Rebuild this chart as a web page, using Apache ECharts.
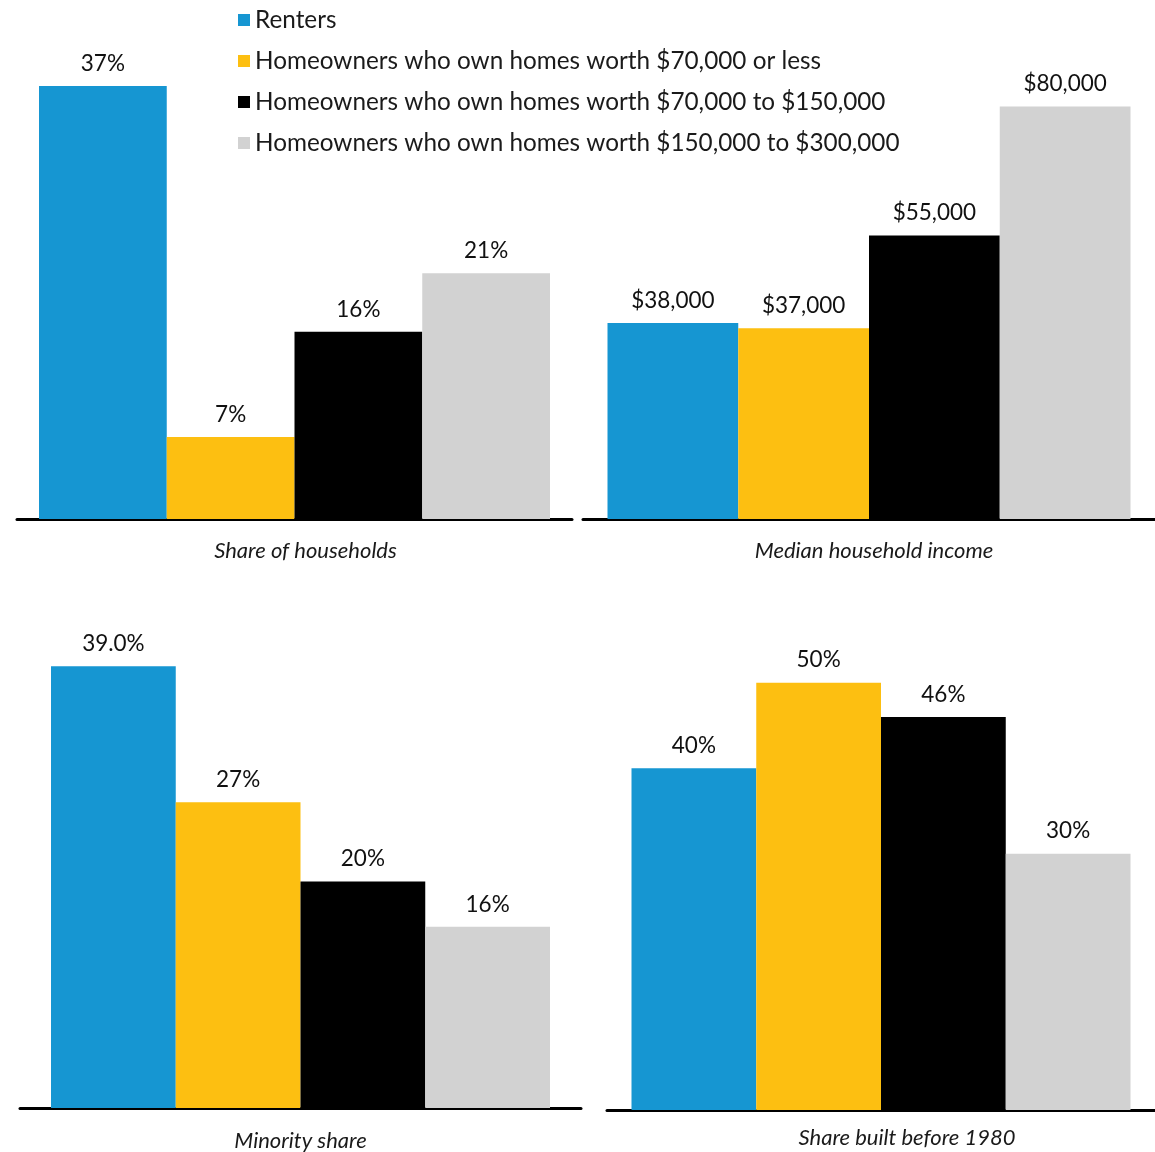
<!DOCTYPE html>
<html><head><meta charset="utf-8">
<script src="https://cdn.jsdelivr.net/npm/echarts@6/dist/echarts.min.js"></script>
<style>html,body{margin:0;padding:0;background:#fff}#c{width:1155px;height:1152px}</style>
</head><body><div id="c"></div>
<script>
const seriesNames = [
  'Renters',
  'Homeowners who own homes worth $70,000 or less',
  'Homeowners who own homes worth $70,000 to $150,000',
  'Homeowners who own homes worth $150,000 to $300,000'
];
const colors = ['#1696d2', '#fdbf11', '#000000', '#d2d2d2'];
const panelTitles = ['Share of households', 'Median household income', 'Minority share', 'Share built before 1980'];
const shareHouseholds = [37, 7, 16, 21];
const medianIncome = [38000, 37000, 55000, 80000];
const minorityShare = [39.0, 27, 20, 16];
const builtBefore1980 = [40, 50, 46, 30];
const shareHouseholdsLabels = ['37%', '7%', '16%', '21%'];
const medianIncomeLabels = ['$38,000', '$37,000', '$55,000', '$80,000'];
const minorityShareLabels = ['39.0%', '27%', '20%', '16%'];
const builtBefore1980Labels = ['40%', '50%', '46%', '30%'];

const panelValues = [shareHouseholds, medianIncome, minorityShare, builtBefore1980];
const panelLabels = [shareHouseholdsLabels, medianIncomeLabels, minorityShareLabels, builtBefore1980Labels];
const layout = [
  {grid: {left: 17, top: 51, width: 555, height: 468}, max: 40, bw: 127.75, shift: 22, margin: 21},
  {grid: {left: 583, top: 55, width: 575, height: 464}, max: 90000, bw: 130.75, shift: 10, margin: 21},
  {grid: {left: 20, top: 655, width: 561, height: 456}, max: 40, bw: 124.75, shift: 0, margin: 22},
  {grid: {left: 607, top: 640, width: 553, height: 470}, max: 55, bw: 124.75, shift: 52, margin: 17}
];
const FONT = 'Lato';
const grids = [], xAxes = [], yAxes = [], series = [];
layout.forEach((L, i) => {
  grids.push(Object.assign({containLabel: false}, L.grid));
  xAxes.push({
    type: 'category', gridIndex: i, data: [panelTitles[i]],
    axisTick: {show: false},
    axisLine: {lineStyle: {color: '#000', width: 3}},
    axisLabel: {fontFamily: FONT, fontStyle: 'italic', fontSize: 22, color: '#1a1a1a',
      margin: L.margin, padding: [0, 0, 0, L.shift]}
  });
  yAxes.push({type: 'value', gridIndex: i, min: 0, max: L.max, show: false, splitLine: {show: false}});
  seriesNames.forEach((n, j) => {
    series.push({
      name: n, type: 'bar', xAxisIndex: i, yAxisIndex: i,
      data: [panelValues[i][j]], barWidth: L.bw, barGap: '0%',
      itemStyle: {color: colors[j]},
      label: {show: true, position: 'top', distance: 11, fontFamily: FONT, fontSize: 22.5, color: '#111',
        formatter: () => panelLabels[i][j]}
    });
  });
});
const chart = echarts.init(document.getElementById('c'));
chart.setOption({
  animation: false,
  legend: {
    data: seriesNames, orient: 'vertical', left: 233, top: 3,
    icon: 'rect', itemWidth: 12, itemHeight: 12, itemGap: 17,
    textStyle: {fontFamily: FONT, fontSize: 24.3, color: '#1a1a1a'}
  },
  grid: grids, xAxis: xAxes, yAxis: yAxes, series: series
});
</script></body></html>
